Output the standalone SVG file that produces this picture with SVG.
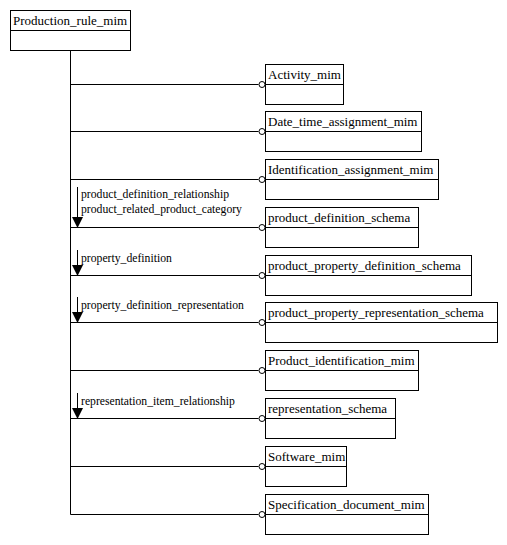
<svg xmlns="http://www.w3.org/2000/svg" width="507" height="545" viewBox="0 0 507 545" font-family="'Liberation Serif', 'DejaVu Serif', serif" font-size="12">
<style>
.box{fill:#fff;stroke:#000;stroke-width:1}
.ln{fill:none;stroke:#000;stroke-width:1}
.ci{fill:#fff;stroke:#000;stroke-width:1}
.ah{fill:#000;stroke:none}
text{font-family:'Liberation Serif','DejaVu Serif',serif;font-size:11.7px;fill:#000}
text.nm{font-size:13px}
</style>
<g id="connectors">
<path class="ln" d="M70.5 51V514.5"/>
<path class="ln" d="M70.5 84.5H258.5M70.5 131.5H258.5M70.5 179.5H258.5M70.5 227.5H258.5M70.5 275.5H258.5M70.5 322.5H258.5M70.5 370.5H258.5M70.5 418.5H258.5M70.5 466.5H258.5M70.5 514.5H258.5"/>
<g>
<circle class="ci" cx="262" cy="84.5" r="3"/>
<circle class="ci" cx="262" cy="131.5" r="3"/>
<circle class="ci" cx="262" cy="179.5" r="3"/>
<circle class="ci" cx="262" cy="227.5" r="3"/>
<circle class="ci" cx="262" cy="275.5" r="3"/>
<circle class="ci" cx="262" cy="322.5" r="3"/>
<circle class="ci" cx="262" cy="370.5" r="3"/>
<circle class="ci" cx="262" cy="418.5" r="3"/>
<circle class="ci" cx="262" cy="466.5" r="3"/>
<circle class="ci" cx="262" cy="514.5" r="3"/>
</g>
<path class="ln" d="M77.5 187V218M77.5 250V266M77.5 297V313M77.5 393V409"/>
<path class="ah" d="M72 217H83L77.5 228Z"/>
<path class="ah" d="M72 265H83L77.5 276Z"/>
<path class="ah" d="M72 312H83L77.5 323Z"/>
<path class="ah" d="M72 408H83L77.5 419Z"/>
<text x="81" y="198">product_definition_relationship</text>
<text x="81" y="213">product_related_product_category</text>
<text x="81" y="262">property_definition</text>
<text x="81" y="309">property_definition_representation</text>
<text x="81" y="405">representation_item_relationship</text>
</g>
<g id="Production_rule_mim"><rect class="box" x="10.5" y="10.5" width="120" height="40"/><path class="ln" d="M10.5 30.5H130.5"/><text class="nm" x="13" y="25">Production_rule_mim</text></g>
<g id="Activity_mim"><rect class="box" x="265.5" y="64.5" width="78" height="40"/><path class="ln" d="M265.5 84.5H343.5"/><text class="nm" x="268" y="79">Activity_mim</text></g>
<g id="Date_time_assignment_mim"><rect class="box" x="265.5" y="111.5" width="156" height="40"/><path class="ln" d="M265.5 131.5H421.5"/><text class="nm" x="268" y="126">Date_time_assignment_mim</text></g>
<g id="Identification_assignment_mim"><rect class="box" x="265.5" y="159.5" width="173" height="40"/><path class="ln" d="M265.5 179.5H438.5"/><text class="nm" x="268" y="174">Identification_assignment_mim</text></g>
<g id="product_definition_schema"><rect class="box" x="265.5" y="207.5" width="153" height="40"/><path class="ln" d="M265.5 227.5H418.5"/><text class="nm" x="268" y="222">product_definition_schema</text></g>
<g id="product_property_definition_schema"><rect class="box" x="265.5" y="255.5" width="206" height="40"/><path class="ln" d="M265.5 275.5H471.5"/><text class="nm" x="268" y="270">product_property_definition_schema</text></g>
<g id="product_property_representation_schema"><rect class="box" x="265.5" y="302.5" width="232" height="40"/><path class="ln" d="M265.5 322.5H497.5"/><text class="nm" x="268" y="317">product_property_representation_schema</text></g>
<g id="Product_identification_mim"><rect class="box" x="265.5" y="350.5" width="153" height="40"/><path class="ln" d="M265.5 370.5H418.5"/><text class="nm" x="268" y="365">Product_identification_mim</text></g>
<g id="representation_schema"><rect class="box" x="265.5" y="398.5" width="130" height="40"/><path class="ln" d="M265.5 418.5H395.5"/><text class="nm" x="268" y="413">representation_schema</text></g>
<g id="Software_mim"><rect class="box" x="265.5" y="446.5" width="81" height="40"/><path class="ln" d="M265.5 466.5H346.5"/><text class="nm" x="268" y="461">Software_mim</text></g>
<g id="Specification_document_mim"><rect class="box" x="265.5" y="494.5" width="163" height="40"/><path class="ln" d="M265.5 514.5H428.5"/><text class="nm" x="268" y="509">Specification_document_mim</text></g>
</svg>
